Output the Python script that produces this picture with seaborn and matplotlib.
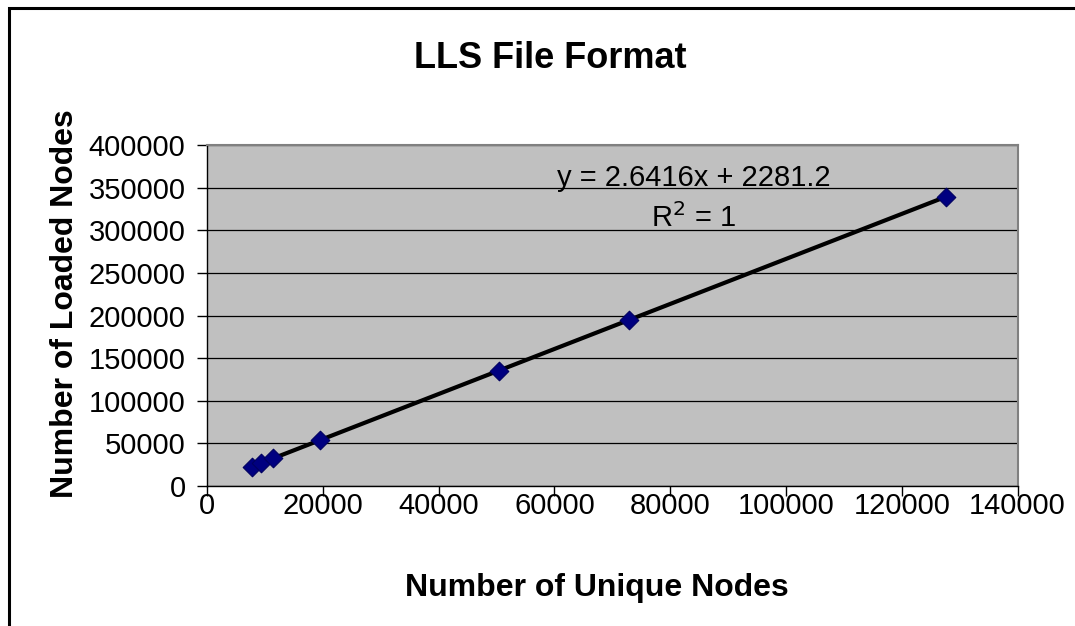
import numpy as np
import pandas as pd
import matplotlib
matplotlib.use('Agg')
import matplotlib.pyplot as plt
import seaborn as sns
from matplotlib.patches import Rectangle

# dados
unique_nodes = [7700, 9400, 11400, 19500, 50400, 72800, 127600]
loaded_nodes = [22600, 27100, 32400, 53800, 135400, 194600, 339300]
x_ticks = [0, 20000, 40000, 60000, 80000, 100000, 120000, 140000]
y_ticks = [0, 50000, 100000, 150000, 200000, 250000, 300000, 350000, 400000]

df = pd.DataFrame({'unique': unique_nodes, 'loaded': loaded_nodes})

sns.set_style('white')
plt.rcParams['font.family'] = ['Liberation Sans', 'DejaVu Sans']
plt.rcParams['text.color'] = 'black'
plt.rcParams['axes.labelcolor'] = 'black'
plt.rcParams['xtick.color'] = 'black'
plt.rcParams['ytick.color'] = 'black'

fig = plt.figure(figsize=(10.75, 6.26), dpi=100)
ax = fig.add_axes([0.1926, 0.2236, 0.754, 0.5447])
ax.set_facecolor('#C0C0C0')

# linha de tendencia (regressao linear)
sns.regplot(data=df, x='unique', y='loaded', ci=None, scatter=False, ax=ax,
            line_kws={'color': 'black', 'lw': 3, 'zorder': 3})
sns.scatterplot(data=df, x='unique', y='loaded', marker='D', s=90, color='#000080',
                edgecolor='#000060', linewidth=0.8, ax=ax, zorder=4)

ax.set_xlim(0, 140000)
ax.set_ylim(0, 400000)
ax.set_xticks(x_ticks)
ax.set_yticks(y_ticks)
ax.set_xticklabels([str(t) for t in x_ticks])
ax.set_yticklabels([str(t) for t in y_ticks])
ax.yaxis.grid(True, color='black', lw=0.9)
ax.set_axisbelow(True)
ax.tick_params(axis='both', direction='out', length=7, width=1, color='black',
               labelsize=21, left=True, bottom=True)
ax.tick_params(axis='y', pad=8.5)
ax.tick_params(axis='x', pad=-3)

for side in ['top', 'right']:
    ax.spines[side].set_color('#808080')
    ax.spines[side].set_linewidth(1.5)
for side in ['left', 'bottom']:
    ax.spines[side].set_color('black')
    ax.spines[side].set_linewidth(1)

ax.set_xlabel('Number of Unique Nodes', fontsize=23, fontweight='bold')
ax.set_ylabel('Number of Loaded Nodes', fontsize=23, fontweight='bold')
ax.xaxis.set_label_coords(0.481, -0.256)
ax.yaxis.set_label_coords(-0.157, 0.535)
fig.text(0.512, 0.907, 'LLS File Format', ha='center', va='center', fontsize=26, fontweight='bold')

ax.text(0.6, 0.902, 'y = 2.6416x + 2281.2', transform=ax.transAxes, ha='center', va='center', fontsize=21)
ax.text(0.6, 0.785, 'R$^2$ = 1', transform=ax.transAxes, ha='center', va='center', fontsize=21)

# moldura externa
fig.patches.append(Rectangle((9 / 1075, -0.1), 1.2, 1.1 - 8 / 626, transform=fig.transFigure,
                             fill=False, edgecolor='black', lw=2.2))

fig.savefig('out.png', dpi=100)
